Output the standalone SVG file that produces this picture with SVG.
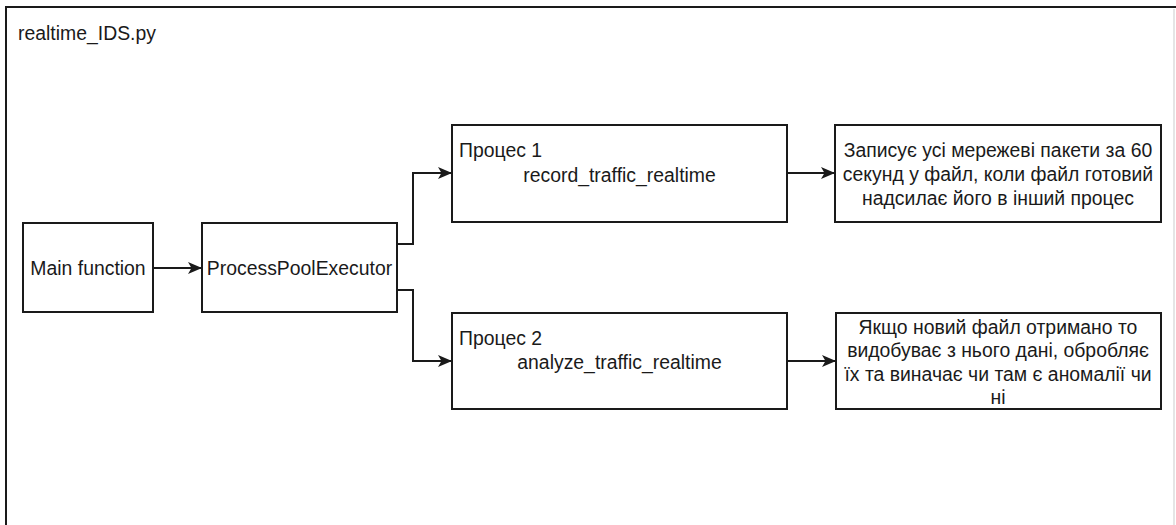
<svg xmlns="http://www.w3.org/2000/svg" width="1176" height="525" viewBox="0 0 1176 525">
  <style>
    .box { fill: #ffffff; stroke: #1a1a1a; stroke-width: 2; }
    .edge { fill: none; stroke: #1a1a1a; stroke-width: 2; }
    .t { font-family: "Liberation Sans", Arial, sans-serif; font-size: 19.4px; fill: #1a1a1a; }
    .c { text-anchor: middle; }
  </style>
  <defs>
    <marker id="arrow" markerUnits="userSpaceOnUse" markerWidth="15" markerHeight="13" refX="14" refY="6.5" orient="auto">
      <path d="M0,0.5 L14,6.5 L0,12.5 L3.5,6.5 Z" fill="#1a1a1a"/>
    </marker>
  </defs>
  <rect x="0" y="0" width="1176" height="525" fill="#ffffff"/>

  <g id="container">
    <path d="M6,525 V7 H1176" fill="none" stroke="#1a1a1a" stroke-width="2"/>
    <line x1="1174" y1="9" x2="1174" y2="525" stroke="#dcdcdc" stroke-width="1.5"/>
    <text class="t" x="18" y="40">realtime_IDS.py</text>
  </g>

  <g id="connectors">
    <path class="edge" d="M153,268 H202" marker-end="url(#arrow)"/>
    <path class="edge" d="M397,244 H413 V173 H452" marker-end="url(#arrow)"/>
    <path class="edge" d="M397,290 H413 V361 H452" marker-end="url(#arrow)"/>
    <path class="edge" d="M787,173 H835" marker-end="url(#arrow)"/>
    <path class="edge" d="M787,361 H836" marker-end="url(#arrow)"/>
  </g>

  <g id="main-function">
    <rect class="box" x="23" y="223" width="130" height="89"/>
    <text class="t c" x="88" y="274.5">Main function</text>
  </g>

  <g id="process-pool-executor">
    <rect class="box" x="202" y="223" width="195" height="89"/>
    <text class="t c" x="299.5" y="274.5">ProcessPoolExecutor</text>
  </g>

  <g id="process-1">
    <rect class="box" x="452" y="125" width="335" height="97"/>
    <text class="t" x="459" y="157">Процес 1</text>
    <text class="t c" x="619.5" y="181.5">record_traffic_realtime</text>
  </g>

  <g id="process-2">
    <rect class="box" x="452" y="313" width="335" height="96"/>
    <text class="t" x="459" y="344.5">Процес 2</text>
    <text class="t c" x="619.5" y="369">analyze_traffic_realtime</text>
  </g>

  <g id="record-desc">
    <rect class="box" x="835" y="125" width="326" height="97"/>
    <text class="t c" x="998" y="156.5">Записує усі мережеві пакети за 60</text>
    <text class="t c" x="998" y="180.5">секунд у файл, коли файл готовий</text>
    <text class="t c" x="998" y="204.5">надсилає його в інший процес</text>
  </g>

  <g id="analyze-desc">
    <rect class="box" x="836" y="313" width="325" height="96"/>
    <text class="t c" x="998" y="333.5">Якщо новий файл отримано то</text>
    <text class="t c" x="998" y="357">видобуває з нього дані, обробляє</text>
    <text class="t c" x="998" y="380.5">їх та виначає чи там є аномалії чи</text>
    <text class="t c" x="998" y="404">ні</text>
  </g>
</svg>
